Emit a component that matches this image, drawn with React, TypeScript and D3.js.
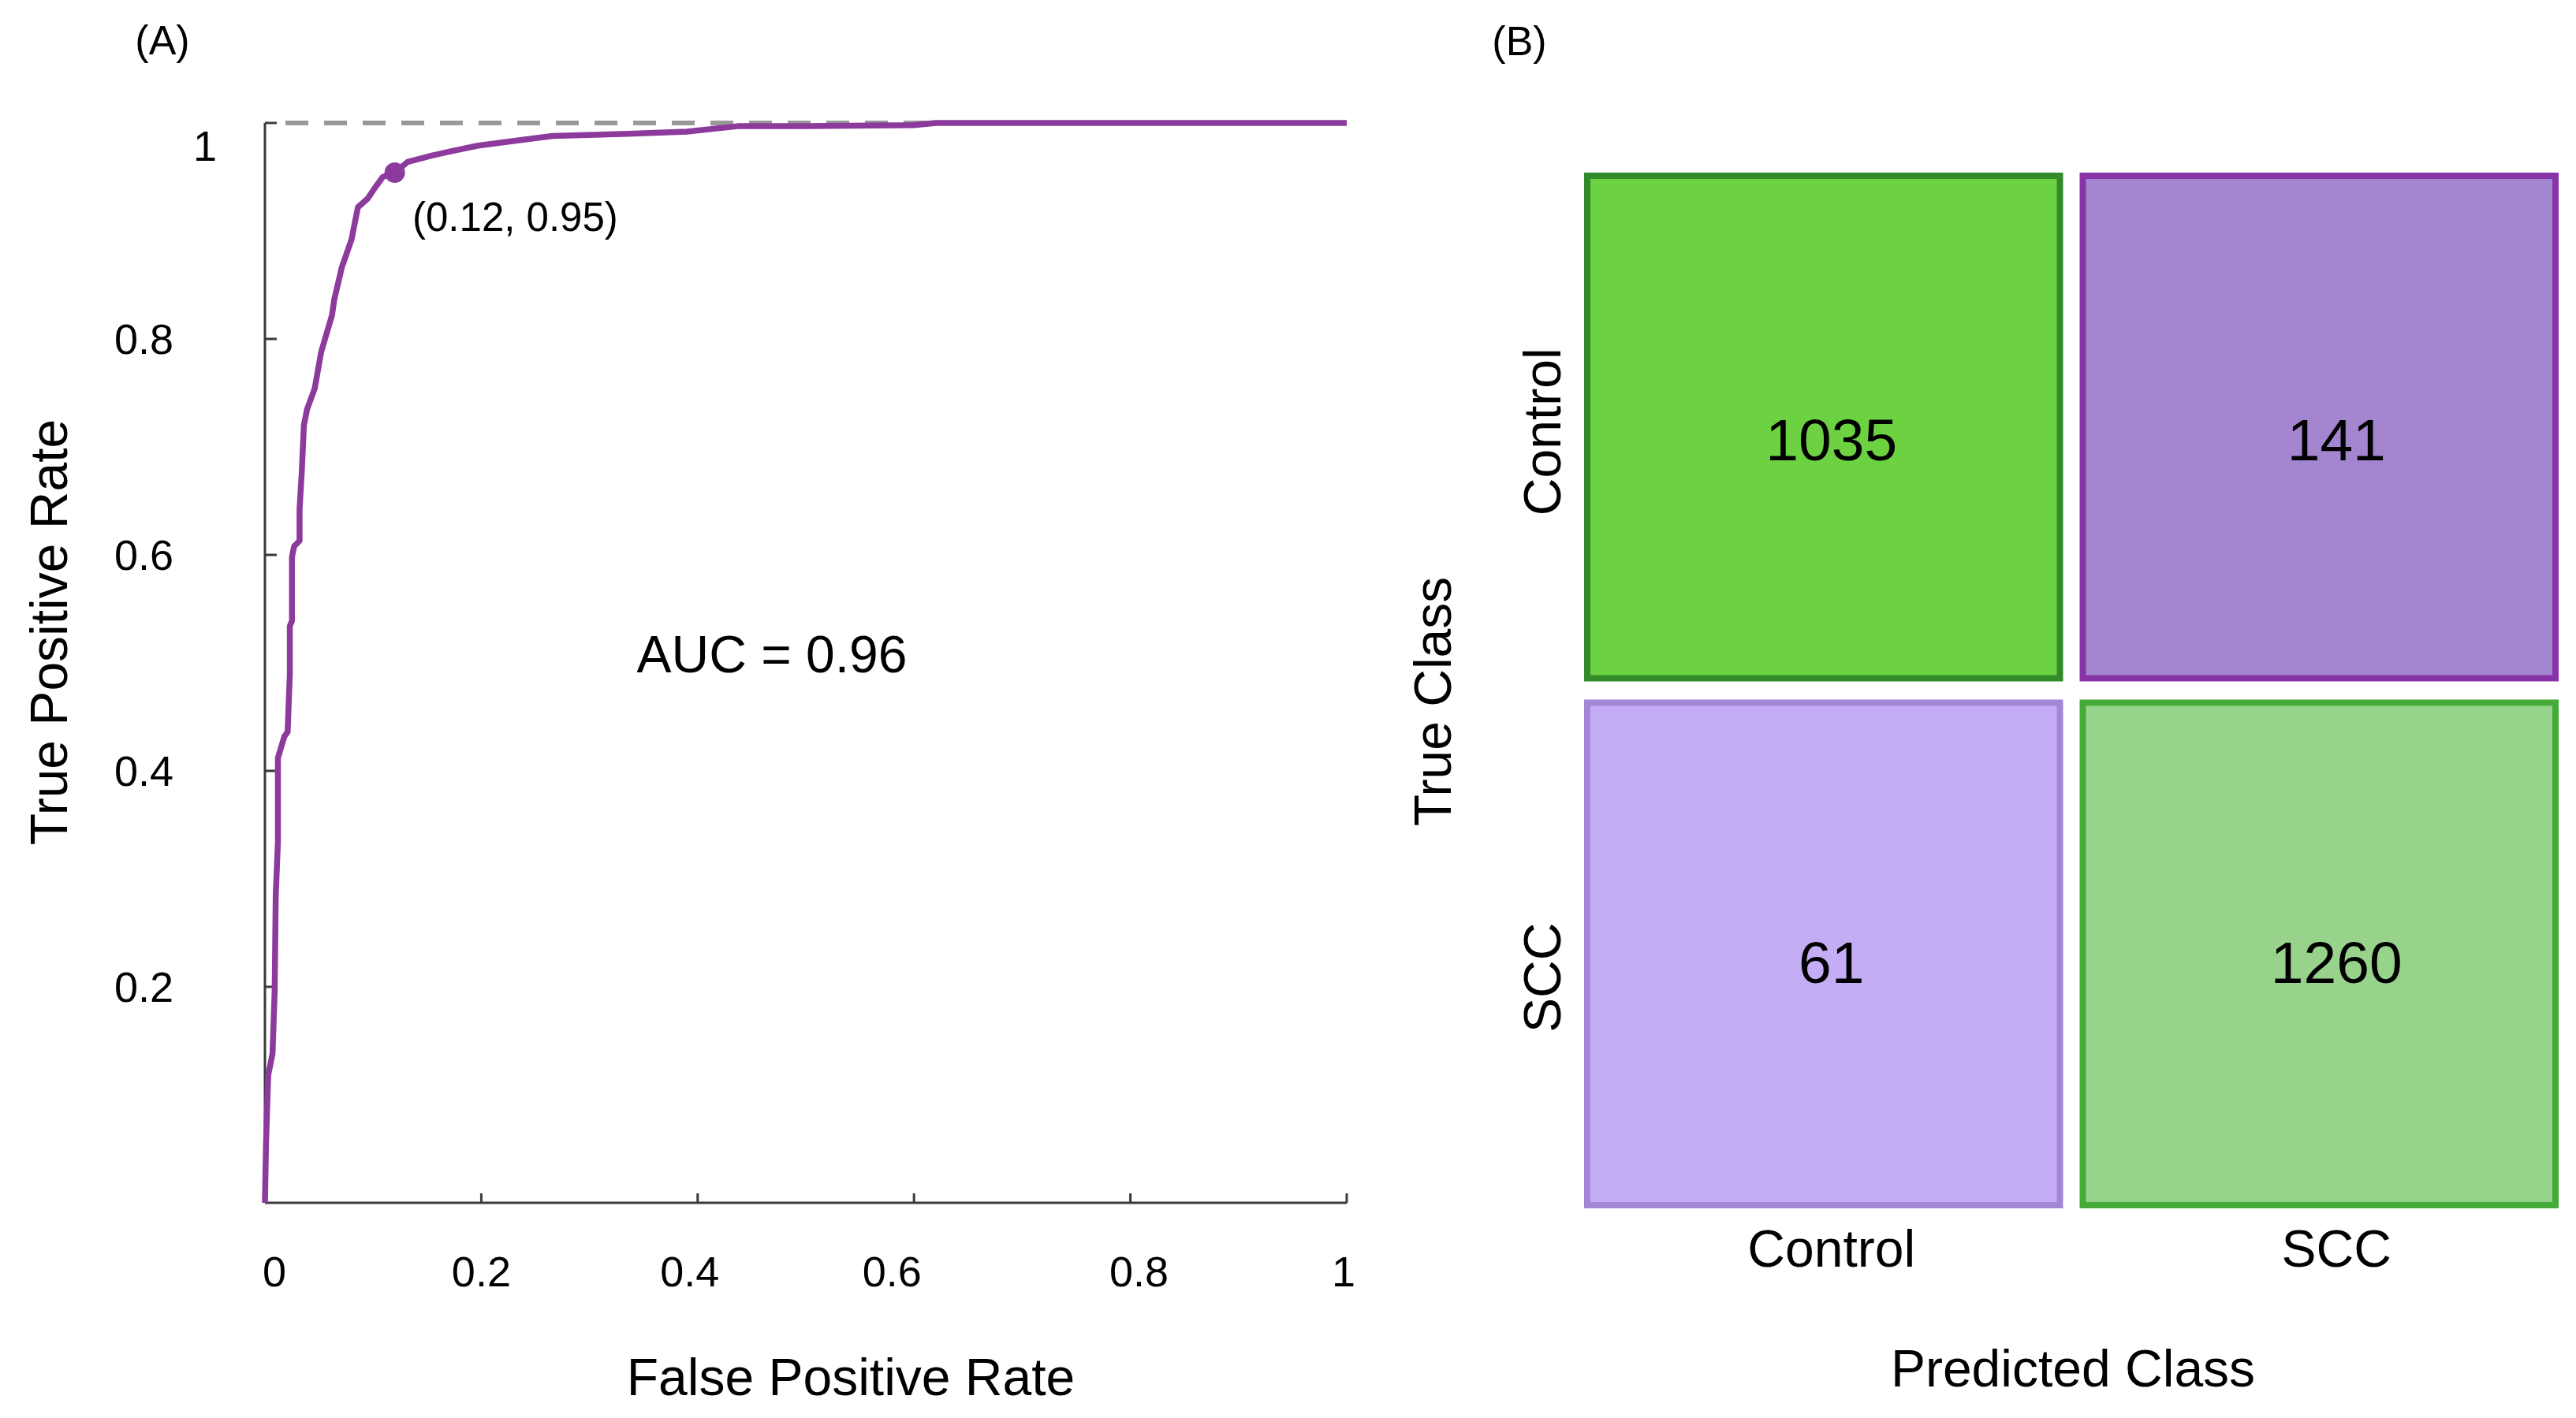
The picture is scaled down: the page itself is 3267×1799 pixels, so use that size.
import React from 'react';
import * as d3 from 'd3';

// ROC curve points (FPR, TPR)
const rocFpr = [0, 0.001, 0.003, 0.007, 0.009, 0.010, 0.012, 0.012, 0.018, 0.021, 0.023, 0.023, 0.025, 0.025, 0.027, 0.032, 0.032, 0.034, 0.036, 0.039, 0.046, 0.052, 0.062, 0.064, 0.071, 0.080, 0.086, 0.095, 0.101, 0.109, 0.120, 0.132, 0.155, 0.173, 0.197, 0.243, 0.266, 0.336, 0.390, 0.437, 0.500, 0.600, 0.620, 1.0];
const rocTpr = [0, 0.055, 0.118, 0.138, 0.196, 0.285, 0.334, 0.412, 0.432, 0.436, 0.490, 0.534, 0.539, 0.598, 0.608, 0.613, 0.642, 0.676, 0.720, 0.735, 0.754, 0.788, 0.822, 0.836, 0.866, 0.892, 0.922, 0.930, 0.939, 0.950, 0.954, 0.964, 0.970, 0.974, 0.979, 0.985, 0.988, 0.990, 0.992, 0.997, 0.997, 0.998, 1.0, 1.0];

const operatingPoint = { fpr: 0.12, tpr: 0.954, label: '(0.12, 0.95)' };
const aucLabel = 'AUC = 0.96';

const xTicks = [0, 0.2, 0.4, 0.6, 0.8, 1];
const xTickLabels = ['0', '0.2', '0.4', '0.6', '0.8', '1'];
const yTicks = [0.2, 0.4, 0.6, 0.8, 1];
const yTickLabels = ['0.2', '0.4', '0.6', '0.8', '1'];

// confusion matrix (rows = true class, cols = predicted class)
const trueClasses = ['Control', 'SCC'];
const predictedClasses = ['Control', 'SCC'];
const counts = [
  [1035, 141],
  [61, 1260],
];
const cellFill = [
  ['#6dd241', '#a385d0'],
  ['#c3aef5', '#97d38a'],
];
const cellStroke = [
  ['#338a2b', '#8834a8'],
  ['#a386d5', '#44ab39'],
];

const FONT = '"Liberation Sans", Arial, Helvetica, sans-serif';
const W = 3267;
const H = 1799;

// small label nudges to match the original figure's hand placement
const xTickNudge = [12, 0, -10, -28, 11, -4];
const colNudge = [10, 22];

export default function App() {
  const x = d3.scaleLinear().domain([0, 1]).range([336, 1708]);
  const y = d3.scaleLinear().domain([0, 1]).range([1526, 156]);

  const rocPts: [number, number][] = rocFpr.map((f, i) => [f, rocTpr[i]]);
  const line = d3.line<[number, number]>()
    .x(d => x(d[0]))
    .y(d => y(d[1]));

  const col = d3.scaleBand<string>().domain(predictedClasses).range([2009, 3245]).paddingInner(0.0334);
  const row = d3.scaleBand<string>().domain(trueClasses).range([219, 1533]).paddingInner(0.0344);
  const sw = 8;

  return (
    <svg width={W} height={H} style={{ position: 'absolute', left: 0, top: 0, background: '#fff' }}
      fontFamily={FONT}>
      <rect width={W} height={H} fill="#fff" />

      {/* Panel A */}
      <text x={206} y={69} fontSize={52} textAnchor="middle">(A)</text>

      <line x1={x(0) + 26} x2={x(1)} y1={y(1)} y2={y(1)} stroke="#999" strokeWidth={6} strokeDasharray="29 20" />

      {/* axes */}
      <line x1={x(0)} x2={x(0)} y1={y(0)} y2={y(1)} stroke="#3a3a3a" strokeWidth={3} />
      <line x1={x(0)} x2={x(1)} y1={y(0)} y2={y(0)} stroke="#3a3a3a" strokeWidth={3} />
      {yTicks.map(t => (
        <line key={'yt' + t} x1={x(0)} x2={x(0) + 15} y1={y(t)} y2={y(t)} stroke="#3a3a3a" strokeWidth={3} />
      ))}
      {xTicks.filter(t => t > 0).map(t => (
        <line key={'xt' + t} x1={x(t)} x2={x(t)} y1={y(0)} y2={y(0) - 12} stroke="#3a3a3a" strokeWidth={3} />
      ))}
      {yTicks.map((t, i) => (
        t === 1
          ? <text key={'yl' + t} x={x(0) - 76} y={y(t) + 48} fontSize={54} textAnchor="middle">{yTickLabels[i]}</text>
          : <text key={'yl' + t} x={x(0) - 116} y={y(t) + 19} fontSize={54} textAnchor="end">{yTickLabels[i]}</text>
      ))}
      {xTicks.map((t, i) => (
        <text key={'xl' + t} x={x(t) + xTickNudge[i]} y={1632} fontSize={54} textAnchor="middle">{xTickLabels[i]}</text>
      ))}

      <path d={line(rocPts) || ''} fill="none" stroke="#8c3a9c" strokeWidth={7.5} strokeLinejoin="round" />
      <circle cx={x(operatingPoint.fpr)} cy={y(operatingPoint.tpr)} r={13} fill="#8c3a9c" />
      <text x={523} y={293} fontSize={51}>{operatingPoint.label}</text>
      <text x={979} y={853} fontSize={66} textAnchor="middle">{aucLabel}</text>

      <text x={1079} y={1770} fontSize={66} textAnchor="middle">False Positive Rate</text>
      <text transform="translate(62,802) rotate(-90)" fontSize={66} textAnchor="middle" dy="0.35em">True Positive Rate</text>

      {/* Panel B */}
      <text x={1927} y={70} fontSize={52} textAnchor="middle">(B)</text>
      {trueClasses.map((tc, r) => predictedClasses.map((pc, c) => {
        const x0 = col(pc)!;
        const y0 = row(tc)!;
        return (
          <g key={tc + pc}>
            <rect x={x0 + sw / 2} y={y0 + sw / 2} width={col.bandwidth() - sw} height={row.bandwidth() - sw}
              fill={cellFill[r][c]} stroke={cellStroke[r][c]} strokeWidth={sw} />
            <text x={x0 + col.bandwidth() / 2 + colNudge[c]} y={y0 + row.bandwidth() / 2 + 27 + (r === 0 ? 15 : 10)}
              fontSize={75} textAnchor="middle">{counts[r][c]}</text>
          </g>
        );
      }))}
      {trueClasses.map((tc, r) => (
        <text key={'rl' + tc}
          transform={`translate(1956,${row(tc)! + row.bandwidth() / 2 + (r === 0 ? 6 : 30)}) rotate(-90)`}
          fontSize={66} textAnchor="middle" dy="0.35em">{tc}</text>
      ))}
      {predictedClasses.map((pc, c) => (
        <text key={'cl' + pc} x={col(pc)! + col.bandwidth() / 2 + colNudge[c]} y={1607} fontSize={66} textAnchor="middle">{pc}</text>
      ))}
      <text transform="translate(1817,890) rotate(-90)" fontSize={66} textAnchor="middle" dy="0.35em">True Class</text>
      <text x={2629} y={1759} fontSize={66} textAnchor="middle">Predicted Class</text>
    </svg>
  );
}
